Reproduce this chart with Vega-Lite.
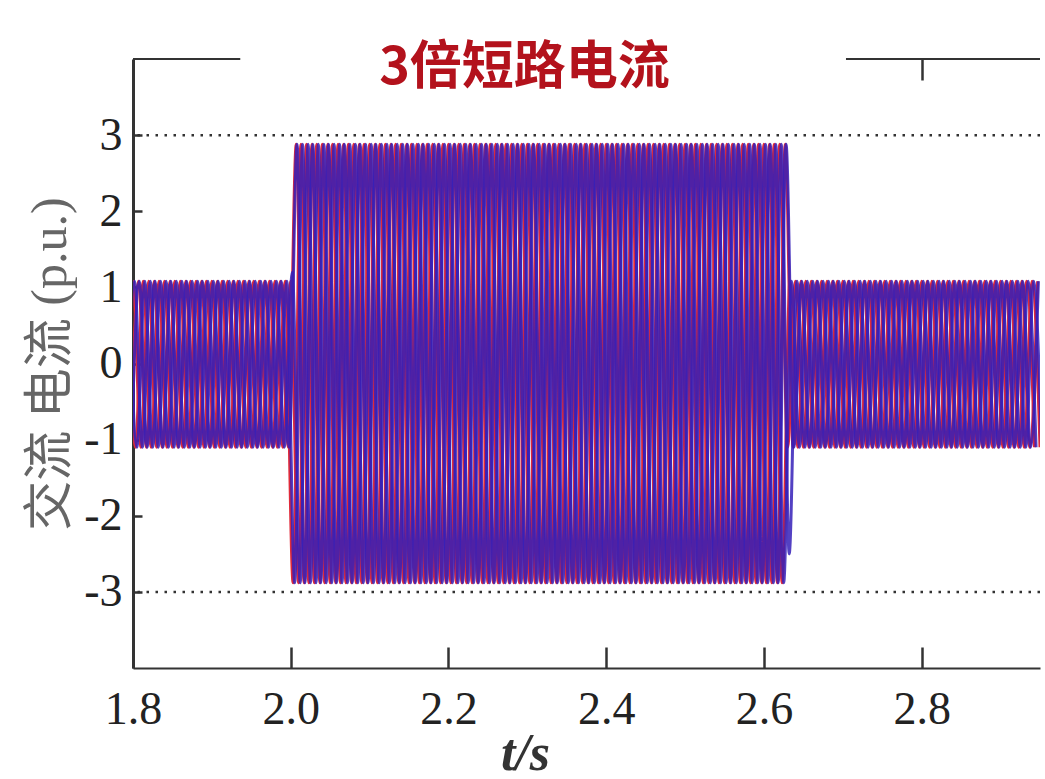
{
"$schema": "https://vega.github.io/schema/vega-lite/v6.json",
"width": 907, "height": 609,
"autosize": "none",
"padding": {"left": 133, "top": 59, "right": 5, "bottom": 111},
"background": "white",
"config": {"view": {"stroke": null}},
"title": {"text": "3倍短路电流", "font": "Noto Sans CJK SC", "fontSize": 52, "fontWeight": "bold", "color": "#b3121c", "anchor": "middle", "offset": 0, "dy": 78, "dx": -62, "baseline": "alphabetic"},
"data": {"values": [
{"t":1.790,"s":"Ra","v":-1.1},{"t":1.792,"s":"Ba","v":-1.1},{"t":1.793,"s":"Rc","v":1.08},{"t":1.795,"s":"Bc","v":1.08},{"t":1.797,"s":"Rb","v":-1.1},{"t":1.798,"s":"Bb","v":-1.1},
{"t":1.800,"s":"Ra","v":1.08},{"t":1.802,"s":"Ba","v":1.08},{"t":1.803,"s":"Rc","v":-1.1},{"t":1.805,"s":"Bc","v":-1.1},{"t":1.807,"s":"Rb","v":1.08},{"t":1.808,"s":"Bb","v":1.08},
{"t":1.810,"s":"Ra","v":-1.1},{"t":1.812,"s":"Ba","v":-1.1},{"t":1.813,"s":"Rc","v":1.08},{"t":1.815,"s":"Bc","v":1.08},{"t":1.817,"s":"Rb","v":-1.1},{"t":1.818,"s":"Bb","v":-1.1},
{"t":1.820,"s":"Ra","v":1.08},{"t":1.822,"s":"Ba","v":1.08},{"t":1.823,"s":"Rc","v":-1.1},{"t":1.825,"s":"Bc","v":-1.1},{"t":1.827,"s":"Rb","v":1.08},{"t":1.828,"s":"Bb","v":1.08},
{"t":1.830,"s":"Ra","v":-1.1},{"t":1.832,"s":"Ba","v":-1.1},{"t":1.833,"s":"Rc","v":1.08},{"t":1.835,"s":"Bc","v":1.08},{"t":1.837,"s":"Rb","v":-1.1},{"t":1.838,"s":"Bb","v":-1.1},
{"t":1.840,"s":"Ra","v":1.08},{"t":1.842,"s":"Ba","v":1.08},{"t":1.843,"s":"Rc","v":-1.1},{"t":1.845,"s":"Bc","v":-1.1},{"t":1.847,"s":"Rb","v":1.08},{"t":1.848,"s":"Bb","v":1.08},
{"t":1.850,"s":"Ra","v":-1.1},{"t":1.852,"s":"Ba","v":-1.1},{"t":1.853,"s":"Rc","v":1.08},{"t":1.855,"s":"Bc","v":1.08},{"t":1.857,"s":"Rb","v":-1.1},{"t":1.858,"s":"Bb","v":-1.1},
{"t":1.860,"s":"Ra","v":1.08},{"t":1.862,"s":"Ba","v":1.08},{"t":1.863,"s":"Rc","v":-1.1},{"t":1.865,"s":"Bc","v":-1.1},{"t":1.867,"s":"Rb","v":1.08},{"t":1.868,"s":"Bb","v":1.08},
{"t":1.870,"s":"Ra","v":-1.1},{"t":1.872,"s":"Ba","v":-1.1},{"t":1.873,"s":"Rc","v":1.08},{"t":1.875,"s":"Bc","v":1.08},{"t":1.877,"s":"Rb","v":-1.1},{"t":1.878,"s":"Bb","v":-1.1},
{"t":1.880,"s":"Ra","v":1.08},{"t":1.882,"s":"Ba","v":1.08},{"t":1.883,"s":"Rc","v":-1.1},{"t":1.885,"s":"Bc","v":-1.1},{"t":1.887,"s":"Rb","v":1.08},{"t":1.888,"s":"Bb","v":1.08},
{"t":1.890,"s":"Ra","v":-1.1},{"t":1.892,"s":"Ba","v":-1.1},{"t":1.893,"s":"Rc","v":1.08},{"t":1.895,"s":"Bc","v":1.08},{"t":1.897,"s":"Rb","v":-1.1},{"t":1.898,"s":"Bb","v":-1.1},
{"t":1.900,"s":"Ra","v":1.08},{"t":1.902,"s":"Ba","v":1.08},{"t":1.903,"s":"Rc","v":-1.1},{"t":1.905,"s":"Bc","v":-1.1},{"t":1.907,"s":"Rb","v":1.08},{"t":1.908,"s":"Bb","v":1.08},
{"t":1.910,"s":"Ra","v":-1.1},{"t":1.912,"s":"Ba","v":-1.1},{"t":1.913,"s":"Rc","v":1.08},{"t":1.915,"s":"Bc","v":1.08},{"t":1.917,"s":"Rb","v":-1.1},{"t":1.918,"s":"Bb","v":-1.1},
{"t":1.920,"s":"Ra","v":1.08},{"t":1.922,"s":"Ba","v":1.08},{"t":1.923,"s":"Rc","v":-1.1},{"t":1.925,"s":"Bc","v":-1.1},{"t":1.927,"s":"Rb","v":1.08},{"t":1.928,"s":"Bb","v":1.08},
{"t":1.930,"s":"Ra","v":-1.1},{"t":1.932,"s":"Ba","v":-1.1},{"t":1.933,"s":"Rc","v":1.08},{"t":1.935,"s":"Bc","v":1.08},{"t":1.937,"s":"Rb","v":-1.1},{"t":1.938,"s":"Bb","v":-1.1},
{"t":1.940,"s":"Ra","v":1.08},{"t":1.942,"s":"Ba","v":1.08},{"t":1.943,"s":"Rc","v":-1.1},{"t":1.945,"s":"Bc","v":-1.1},{"t":1.947,"s":"Rb","v":1.08},{"t":1.948,"s":"Bb","v":1.08},
{"t":1.950,"s":"Ra","v":-1.1},{"t":1.952,"s":"Ba","v":-1.1},{"t":1.953,"s":"Rc","v":1.08},{"t":1.955,"s":"Bc","v":1.08},{"t":1.957,"s":"Rb","v":-1.1},{"t":1.958,"s":"Bb","v":-1.1},
{"t":1.960,"s":"Ra","v":1.08},{"t":1.962,"s":"Ba","v":1.08},{"t":1.963,"s":"Rc","v":-1.1},{"t":1.965,"s":"Bc","v":-1.1},{"t":1.967,"s":"Rb","v":1.08},{"t":1.968,"s":"Bb","v":1.08},
{"t":1.970,"s":"Ra","v":-1.1},{"t":1.972,"s":"Ba","v":-1.1},{"t":1.973,"s":"Rc","v":1.08},{"t":1.975,"s":"Bc","v":1.08},{"t":1.977,"s":"Rb","v":-1.1},{"t":1.978,"s":"Bb","v":-1.1},
{"t":1.980,"s":"Ra","v":1.08},{"t":1.982,"s":"Ba","v":1.08},{"t":1.983,"s":"Rc","v":-1.1},{"t":1.985,"s":"Bc","v":-1.1},{"t":1.987,"s":"Rb","v":1.08},{"t":1.988,"s":"Bb","v":1.08},
{"t":1.990,"s":"Ra","v":-1.1},{"t":1.992,"s":"Ba","v":-1.1},{"t":1.993,"s":"Rc","v":1.08},{"t":1.995,"s":"Bc","v":1.08},{"t":1.997,"s":"Rb","v":-1.1},{"t":1.998,"s":"Bb","v":-1.1},
{"t":2.000,"s":"Ra","v":1.08},{"t":2.002,"s":"Ba","v":1.2},{"t":2.003,"s":"Rc","v":-2.88},{"t":2.005,"s":"Bc","v":-2.88},{"t":2.007,"s":"Rb","v":2.88},{"t":2.008,"s":"Bb","v":2.88},
{"t":2.010,"s":"Ra","v":-2.88},{"t":2.012,"s":"Ba","v":-2.88},{"t":2.013,"s":"Rc","v":2.88},{"t":2.015,"s":"Bc","v":2.88},{"t":2.017,"s":"Rb","v":-2.88},{"t":2.018,"s":"Bb","v":-2.88},
{"t":2.020,"s":"Ra","v":2.88},{"t":2.022,"s":"Ba","v":2.88},{"t":2.023,"s":"Rc","v":-2.88},{"t":2.025,"s":"Bc","v":-2.88},{"t":2.027,"s":"Rb","v":2.88},{"t":2.028,"s":"Bb","v":2.88},
{"t":2.030,"s":"Ra","v":-2.88},{"t":2.032,"s":"Ba","v":-2.88},{"t":2.033,"s":"Rc","v":2.88},{"t":2.035,"s":"Bc","v":2.88},{"t":2.037,"s":"Rb","v":-2.88},{"t":2.038,"s":"Bb","v":-2.88},
{"t":2.040,"s":"Ra","v":2.88},{"t":2.042,"s":"Ba","v":2.88},{"t":2.043,"s":"Rc","v":-2.88},{"t":2.045,"s":"Bc","v":-2.88},{"t":2.047,"s":"Rb","v":2.88},{"t":2.048,"s":"Bb","v":2.88},
{"t":2.050,"s":"Ra","v":-2.88},{"t":2.052,"s":"Ba","v":-2.88},{"t":2.053,"s":"Rc","v":2.88},{"t":2.055,"s":"Bc","v":2.88},{"t":2.057,"s":"Rb","v":-2.88},{"t":2.058,"s":"Bb","v":-2.88},
{"t":2.060,"s":"Ra","v":2.88},{"t":2.062,"s":"Ba","v":2.88},{"t":2.063,"s":"Rc","v":-2.88},{"t":2.065,"s":"Bc","v":-2.88},{"t":2.067,"s":"Rb","v":2.88},{"t":2.068,"s":"Bb","v":2.88},
{"t":2.070,"s":"Ra","v":-2.88},{"t":2.072,"s":"Ba","v":-2.88},{"t":2.073,"s":"Rc","v":2.88},{"t":2.075,"s":"Bc","v":2.88},{"t":2.077,"s":"Rb","v":-2.88},{"t":2.078,"s":"Bb","v":-2.88},
{"t":2.080,"s":"Ra","v":2.88},{"t":2.082,"s":"Ba","v":2.88},{"t":2.083,"s":"Rc","v":-2.88},{"t":2.085,"s":"Bc","v":-2.88},{"t":2.087,"s":"Rb","v":2.88},{"t":2.088,"s":"Bb","v":2.88},
{"t":2.090,"s":"Ra","v":-2.88},{"t":2.092,"s":"Ba","v":-2.88},{"t":2.093,"s":"Rc","v":2.88},{"t":2.095,"s":"Bc","v":2.88},{"t":2.097,"s":"Rb","v":-2.88},{"t":2.098,"s":"Bb","v":-2.88},
{"t":2.100,"s":"Ra","v":2.88},{"t":2.102,"s":"Ba","v":2.88},{"t":2.103,"s":"Rc","v":-2.88},{"t":2.105,"s":"Bc","v":-2.88},{"t":2.107,"s":"Rb","v":2.88},{"t":2.108,"s":"Bb","v":2.88},
{"t":2.110,"s":"Ra","v":-2.88},{"t":2.112,"s":"Ba","v":-2.88},{"t":2.113,"s":"Rc","v":2.88},{"t":2.115,"s":"Bc","v":2.88},{"t":2.117,"s":"Rb","v":-2.88},{"t":2.118,"s":"Bb","v":-2.88},
{"t":2.120,"s":"Ra","v":2.88},{"t":2.122,"s":"Ba","v":2.88},{"t":2.123,"s":"Rc","v":-2.88},{"t":2.125,"s":"Bc","v":-2.88},{"t":2.127,"s":"Rb","v":2.88},{"t":2.128,"s":"Bb","v":2.88},
{"t":2.130,"s":"Ra","v":-2.88},{"t":2.132,"s":"Ba","v":-2.88},{"t":2.133,"s":"Rc","v":2.88},{"t":2.135,"s":"Bc","v":2.88},{"t":2.137,"s":"Rb","v":-2.88},{"t":2.138,"s":"Bb","v":-2.88},
{"t":2.140,"s":"Ra","v":2.88},{"t":2.142,"s":"Ba","v":2.88},{"t":2.143,"s":"Rc","v":-2.88},{"t":2.145,"s":"Bc","v":-2.88},{"t":2.147,"s":"Rb","v":2.88},{"t":2.148,"s":"Bb","v":2.88},
{"t":2.150,"s":"Ra","v":-2.88},{"t":2.152,"s":"Ba","v":-2.88},{"t":2.153,"s":"Rc","v":2.88},{"t":2.155,"s":"Bc","v":2.88},{"t":2.157,"s":"Rb","v":-2.88},{"t":2.158,"s":"Bb","v":-2.88},
{"t":2.160,"s":"Ra","v":2.88},{"t":2.162,"s":"Ba","v":2.88},{"t":2.163,"s":"Rc","v":-2.88},{"t":2.165,"s":"Bc","v":-2.88},{"t":2.167,"s":"Rb","v":2.88},{"t":2.168,"s":"Bb","v":2.88},
{"t":2.170,"s":"Ra","v":-2.88},{"t":2.172,"s":"Ba","v":-2.88},{"t":2.173,"s":"Rc","v":2.88},{"t":2.175,"s":"Bc","v":2.88},{"t":2.177,"s":"Rb","v":-2.88},{"t":2.178,"s":"Bb","v":-2.88},
{"t":2.180,"s":"Ra","v":2.88},{"t":2.182,"s":"Ba","v":2.88},{"t":2.183,"s":"Rc","v":-2.88},{"t":2.185,"s":"Bc","v":-2.88},{"t":2.187,"s":"Rb","v":2.88},{"t":2.188,"s":"Bb","v":2.88},
{"t":2.190,"s":"Ra","v":-2.88},{"t":2.192,"s":"Ba","v":-2.88},{"t":2.193,"s":"Rc","v":2.88},{"t":2.195,"s":"Bc","v":2.88},{"t":2.197,"s":"Rb","v":-2.88},{"t":2.198,"s":"Bb","v":-2.88},
{"t":2.200,"s":"Ra","v":2.88},{"t":2.202,"s":"Ba","v":2.88},{"t":2.203,"s":"Rc","v":-2.88},{"t":2.205,"s":"Bc","v":-2.88},{"t":2.207,"s":"Rb","v":2.88},{"t":2.208,"s":"Bb","v":2.88},
{"t":2.210,"s":"Ra","v":-2.88},{"t":2.212,"s":"Ba","v":-2.88},{"t":2.213,"s":"Rc","v":2.88},{"t":2.215,"s":"Bc","v":2.88},{"t":2.217,"s":"Rb","v":-2.88},{"t":2.218,"s":"Bb","v":-2.88},
{"t":2.220,"s":"Ra","v":2.88},{"t":2.222,"s":"Ba","v":2.88},{"t":2.223,"s":"Rc","v":-2.88},{"t":2.225,"s":"Bc","v":-2.88},{"t":2.227,"s":"Rb","v":2.88},{"t":2.228,"s":"Bb","v":2.88},
{"t":2.230,"s":"Ra","v":-2.88},{"t":2.232,"s":"Ba","v":-2.88},{"t":2.233,"s":"Rc","v":2.88},{"t":2.235,"s":"Bc","v":2.88},{"t":2.237,"s":"Rb","v":-2.88},{"t":2.238,"s":"Bb","v":-2.88},
{"t":2.240,"s":"Ra","v":2.88},{"t":2.242,"s":"Ba","v":2.88},{"t":2.243,"s":"Rc","v":-2.88},{"t":2.245,"s":"Bc","v":-2.88},{"t":2.247,"s":"Rb","v":2.88},{"t":2.248,"s":"Bb","v":2.88},
{"t":2.250,"s":"Ra","v":-2.88},{"t":2.252,"s":"Ba","v":-2.88},{"t":2.253,"s":"Rc","v":2.88},{"t":2.255,"s":"Bc","v":2.88},{"t":2.257,"s":"Rb","v":-2.88},{"t":2.258,"s":"Bb","v":-2.88},
{"t":2.260,"s":"Ra","v":2.88},{"t":2.262,"s":"Ba","v":2.88},{"t":2.263,"s":"Rc","v":-2.88},{"t":2.265,"s":"Bc","v":-2.88},{"t":2.267,"s":"Rb","v":2.88},{"t":2.268,"s":"Bb","v":2.88},
{"t":2.270,"s":"Ra","v":-2.88},{"t":2.272,"s":"Ba","v":-2.88},{"t":2.273,"s":"Rc","v":2.88},{"t":2.275,"s":"Bc","v":2.88},{"t":2.277,"s":"Rb","v":-2.88},{"t":2.278,"s":"Bb","v":-2.88},
{"t":2.280,"s":"Ra","v":2.88},{"t":2.282,"s":"Ba","v":2.88},{"t":2.283,"s":"Rc","v":-2.88},{"t":2.285,"s":"Bc","v":-2.88},{"t":2.287,"s":"Rb","v":2.88},{"t":2.288,"s":"Bb","v":2.88},
{"t":2.290,"s":"Ra","v":-2.88},{"t":2.292,"s":"Ba","v":-2.88},{"t":2.293,"s":"Rc","v":2.88},{"t":2.295,"s":"Bc","v":2.88},{"t":2.297,"s":"Rb","v":-2.88},{"t":2.298,"s":"Bb","v":-2.88},
{"t":2.300,"s":"Ra","v":2.88},{"t":2.302,"s":"Ba","v":2.88},{"t":2.303,"s":"Rc","v":-2.88},{"t":2.305,"s":"Bc","v":-2.88},{"t":2.307,"s":"Rb","v":2.88},{"t":2.308,"s":"Bb","v":2.88},
{"t":2.310,"s":"Ra","v":-2.88},{"t":2.312,"s":"Ba","v":-2.88},{"t":2.313,"s":"Rc","v":2.88},{"t":2.315,"s":"Bc","v":2.88},{"t":2.317,"s":"Rb","v":-2.88},{"t":2.318,"s":"Bb","v":-2.88},
{"t":2.320,"s":"Ra","v":2.88},{"t":2.322,"s":"Ba","v":2.88},{"t":2.323,"s":"Rc","v":-2.88},{"t":2.325,"s":"Bc","v":-2.88},{"t":2.327,"s":"Rb","v":2.88},{"t":2.328,"s":"Bb","v":2.88},
{"t":2.330,"s":"Ra","v":-2.88},{"t":2.332,"s":"Ba","v":-2.88},{"t":2.333,"s":"Rc","v":2.88},{"t":2.335,"s":"Bc","v":2.88},{"t":2.337,"s":"Rb","v":-2.88},{"t":2.338,"s":"Bb","v":-2.88},
{"t":2.340,"s":"Ra","v":2.88},{"t":2.342,"s":"Ba","v":2.88},{"t":2.343,"s":"Rc","v":-2.88},{"t":2.345,"s":"Bc","v":-2.88},{"t":2.347,"s":"Rb","v":2.88},{"t":2.348,"s":"Bb","v":2.88},
{"t":2.350,"s":"Ra","v":-2.88},{"t":2.352,"s":"Ba","v":-2.88},{"t":2.353,"s":"Rc","v":2.88},{"t":2.355,"s":"Bc","v":2.88},{"t":2.357,"s":"Rb","v":-2.88},{"t":2.358,"s":"Bb","v":-2.88},
{"t":2.360,"s":"Ra","v":2.88},{"t":2.362,"s":"Ba","v":2.88},{"t":2.363,"s":"Rc","v":-2.88},{"t":2.365,"s":"Bc","v":-2.88},{"t":2.367,"s":"Rb","v":2.88},{"t":2.368,"s":"Bb","v":2.88},
{"t":2.370,"s":"Ra","v":-2.88},{"t":2.372,"s":"Ba","v":-2.88},{"t":2.373,"s":"Rc","v":2.88},{"t":2.375,"s":"Bc","v":2.88},{"t":2.377,"s":"Rb","v":-2.88},{"t":2.378,"s":"Bb","v":-2.88},
{"t":2.380,"s":"Ra","v":2.88},{"t":2.382,"s":"Ba","v":2.88},{"t":2.383,"s":"Rc","v":-2.88},{"t":2.385,"s":"Bc","v":-2.88},{"t":2.387,"s":"Rb","v":2.88},{"t":2.388,"s":"Bb","v":2.88},
{"t":2.390,"s":"Ra","v":-2.88},{"t":2.392,"s":"Ba","v":-2.88},{"t":2.393,"s":"Rc","v":2.88},{"t":2.395,"s":"Bc","v":2.88},{"t":2.397,"s":"Rb","v":-2.88},{"t":2.398,"s":"Bb","v":-2.88},
{"t":2.400,"s":"Ra","v":2.88},{"t":2.402,"s":"Ba","v":2.88},{"t":2.403,"s":"Rc","v":-2.88},{"t":2.405,"s":"Bc","v":-2.88},{"t":2.407,"s":"Rb","v":2.88},{"t":2.408,"s":"Bb","v":2.88},
{"t":2.410,"s":"Ra","v":-2.88},{"t":2.412,"s":"Ba","v":-2.88},{"t":2.413,"s":"Rc","v":2.88},{"t":2.415,"s":"Bc","v":2.88},{"t":2.417,"s":"Rb","v":-2.88},{"t":2.418,"s":"Bb","v":-2.88},
{"t":2.420,"s":"Ra","v":2.88},{"t":2.422,"s":"Ba","v":2.88},{"t":2.423,"s":"Rc","v":-2.88},{"t":2.425,"s":"Bc","v":-2.88},{"t":2.427,"s":"Rb","v":2.88},{"t":2.428,"s":"Bb","v":2.88},
{"t":2.430,"s":"Ra","v":-2.88},{"t":2.432,"s":"Ba","v":-2.88},{"t":2.433,"s":"Rc","v":2.88},{"t":2.435,"s":"Bc","v":2.88},{"t":2.437,"s":"Rb","v":-2.88},{"t":2.438,"s":"Bb","v":-2.88},
{"t":2.440,"s":"Ra","v":2.88},{"t":2.442,"s":"Ba","v":2.88},{"t":2.443,"s":"Rc","v":-2.88},{"t":2.445,"s":"Bc","v":-2.88},{"t":2.447,"s":"Rb","v":2.88},{"t":2.448,"s":"Bb","v":2.88},
{"t":2.450,"s":"Ra","v":-2.88},{"t":2.452,"s":"Ba","v":-2.88},{"t":2.453,"s":"Rc","v":2.88},{"t":2.455,"s":"Bc","v":2.88},{"t":2.457,"s":"Rb","v":-2.88},{"t":2.458,"s":"Bb","v":-2.88},
{"t":2.460,"s":"Ra","v":2.88},{"t":2.462,"s":"Ba","v":2.88},{"t":2.463,"s":"Rc","v":-2.88},{"t":2.465,"s":"Bc","v":-2.88},{"t":2.467,"s":"Rb","v":2.88},{"t":2.468,"s":"Bb","v":2.88},
{"t":2.470,"s":"Ra","v":-2.88},{"t":2.472,"s":"Ba","v":-2.88},{"t":2.473,"s":"Rc","v":2.88},{"t":2.475,"s":"Bc","v":2.88},{"t":2.477,"s":"Rb","v":-2.88},{"t":2.478,"s":"Bb","v":-2.88},
{"t":2.480,"s":"Ra","v":2.88},{"t":2.482,"s":"Ba","v":2.88},{"t":2.483,"s":"Rc","v":-2.88},{"t":2.485,"s":"Bc","v":-2.88},{"t":2.487,"s":"Rb","v":2.88},{"t":2.488,"s":"Bb","v":2.88},
{"t":2.490,"s":"Ra","v":-2.88},{"t":2.492,"s":"Ba","v":-2.88},{"t":2.493,"s":"Rc","v":2.88},{"t":2.495,"s":"Bc","v":2.88},{"t":2.497,"s":"Rb","v":-2.88},{"t":2.498,"s":"Bb","v":-2.88},
{"t":2.500,"s":"Ra","v":2.88},{"t":2.502,"s":"Ba","v":2.88},{"t":2.503,"s":"Rc","v":-2.88},{"t":2.505,"s":"Bc","v":-2.88},{"t":2.507,"s":"Rb","v":2.88},{"t":2.508,"s":"Bb","v":2.88},
{"t":2.510,"s":"Ra","v":-2.88},{"t":2.512,"s":"Ba","v":-2.88},{"t":2.513,"s":"Rc","v":2.88},{"t":2.515,"s":"Bc","v":2.88},{"t":2.517,"s":"Rb","v":-2.88},{"t":2.518,"s":"Bb","v":-2.88},
{"t":2.520,"s":"Ra","v":2.88},{"t":2.522,"s":"Ba","v":2.88},{"t":2.523,"s":"Rc","v":-2.88},{"t":2.525,"s":"Bc","v":-2.88},{"t":2.527,"s":"Rb","v":2.88},{"t":2.528,"s":"Bb","v":2.88},
{"t":2.530,"s":"Ra","v":-2.88},{"t":2.532,"s":"Ba","v":-2.88},{"t":2.533,"s":"Rc","v":2.88},{"t":2.535,"s":"Bc","v":2.88},{"t":2.537,"s":"Rb","v":-2.88},{"t":2.538,"s":"Bb","v":-2.88},
{"t":2.540,"s":"Ra","v":2.88},{"t":2.542,"s":"Ba","v":2.88},{"t":2.543,"s":"Rc","v":-2.88},{"t":2.545,"s":"Bc","v":-2.88},{"t":2.547,"s":"Rb","v":2.88},{"t":2.548,"s":"Bb","v":2.88},
{"t":2.550,"s":"Ra","v":-2.88},{"t":2.552,"s":"Ba","v":-2.88},{"t":2.553,"s":"Rc","v":2.88},{"t":2.555,"s":"Bc","v":2.88},{"t":2.557,"s":"Rb","v":-2.88},{"t":2.558,"s":"Bb","v":-2.88},
{"t":2.560,"s":"Ra","v":2.88},{"t":2.562,"s":"Ba","v":2.88},{"t":2.563,"s":"Rc","v":-2.88},{"t":2.565,"s":"Bc","v":-2.88},{"t":2.567,"s":"Rb","v":2.88},{"t":2.568,"s":"Bb","v":2.88},
{"t":2.570,"s":"Ra","v":-2.88},{"t":2.572,"s":"Ba","v":-2.88},{"t":2.573,"s":"Rc","v":2.88},{"t":2.575,"s":"Bc","v":2.88},{"t":2.577,"s":"Rb","v":-2.88},{"t":2.578,"s":"Bb","v":-2.88},
{"t":2.580,"s":"Ra","v":2.88},{"t":2.582,"s":"Ba","v":2.88},{"t":2.583,"s":"Rc","v":-2.88},{"t":2.585,"s":"Bc","v":-2.88},{"t":2.587,"s":"Rb","v":2.88},{"t":2.588,"s":"Bb","v":2.88},
{"t":2.590,"s":"Ra","v":-2.88},{"t":2.592,"s":"Ba","v":-2.88},{"t":2.593,"s":"Rc","v":2.88},{"t":2.595,"s":"Bc","v":2.88},{"t":2.597,"s":"Rb","v":-2.88},{"t":2.598,"s":"Bb","v":-2.88},
{"t":2.600,"s":"Ra","v":2.88},{"t":2.602,"s":"Ba","v":2.88},{"t":2.603,"s":"Rc","v":-2.88},{"t":2.605,"s":"Bc","v":-2.88},{"t":2.607,"s":"Rb","v":2.88},{"t":2.608,"s":"Bb","v":2.88},
{"t":2.610,"s":"Ra","v":-2.88},{"t":2.612,"s":"Ba","v":-2.88},{"t":2.613,"s":"Rc","v":2.88},{"t":2.615,"s":"Bc","v":2.88},{"t":2.617,"s":"Rb","v":-2.88},{"t":2.618,"s":"Bb","v":-2.88},
{"t":2.620,"s":"Ra","v":2.88},{"t":2.622,"s":"Ba","v":2.88},{"t":2.623,"s":"Rc","v":-2.88},{"t":2.625,"s":"Bc","v":-2.88},{"t":2.627,"s":"Rb","v":2.88},{"t":2.628,"s":"Bb","v":2.88},
{"t":2.630,"s":"Ra","v":-1.1},{"t":2.632,"s":"Ba","v":-2.5},{"t":2.633,"s":"Rc","v":1.08},{"t":2.635,"s":"Bc","v":1.08},{"t":2.637,"s":"Rb","v":-1.1},{"t":2.638,"s":"Bb","v":-1.1},
{"t":2.640,"s":"Ra","v":1.08},{"t":2.642,"s":"Ba","v":1.08},{"t":2.643,"s":"Rc","v":-1.1},{"t":2.645,"s":"Bc","v":-1.1},{"t":2.647,"s":"Rb","v":1.08},{"t":2.648,"s":"Bb","v":1.08},
{"t":2.650,"s":"Ra","v":-1.1},{"t":2.652,"s":"Ba","v":-1.1},{"t":2.653,"s":"Rc","v":1.08},{"t":2.655,"s":"Bc","v":1.08},{"t":2.657,"s":"Rb","v":-1.1},{"t":2.658,"s":"Bb","v":-1.1},
{"t":2.660,"s":"Ra","v":1.08},{"t":2.662,"s":"Ba","v":1.08},{"t":2.663,"s":"Rc","v":-1.1},{"t":2.665,"s":"Bc","v":-1.1},{"t":2.667,"s":"Rb","v":1.08},{"t":2.668,"s":"Bb","v":1.08},
{"t":2.670,"s":"Ra","v":-1.1},{"t":2.672,"s":"Ba","v":-1.1},{"t":2.673,"s":"Rc","v":1.08},{"t":2.675,"s":"Bc","v":1.08},{"t":2.677,"s":"Rb","v":-1.1},{"t":2.678,"s":"Bb","v":-1.1},
{"t":2.680,"s":"Ra","v":1.08},{"t":2.682,"s":"Ba","v":1.08},{"t":2.683,"s":"Rc","v":-1.1},{"t":2.685,"s":"Bc","v":-1.1},{"t":2.687,"s":"Rb","v":1.08},{"t":2.688,"s":"Bb","v":1.08},
{"t":2.690,"s":"Ra","v":-1.1},{"t":2.692,"s":"Ba","v":-1.1},{"t":2.693,"s":"Rc","v":1.08},{"t":2.695,"s":"Bc","v":1.08},{"t":2.697,"s":"Rb","v":-1.1},{"t":2.698,"s":"Bb","v":-1.1},
{"t":2.700,"s":"Ra","v":1.08},{"t":2.702,"s":"Ba","v":1.08},{"t":2.703,"s":"Rc","v":-1.1},{"t":2.705,"s":"Bc","v":-1.1},{"t":2.707,"s":"Rb","v":1.08},{"t":2.708,"s":"Bb","v":1.08},
{"t":2.710,"s":"Ra","v":-1.1},{"t":2.712,"s":"Ba","v":-1.1},{"t":2.713,"s":"Rc","v":1.08},{"t":2.715,"s":"Bc","v":1.08},{"t":2.717,"s":"Rb","v":-1.1},{"t":2.718,"s":"Bb","v":-1.1},
{"t":2.720,"s":"Ra","v":1.08},{"t":2.722,"s":"Ba","v":1.08},{"t":2.723,"s":"Rc","v":-1.1},{"t":2.725,"s":"Bc","v":-1.1},{"t":2.727,"s":"Rb","v":1.08},{"t":2.728,"s":"Bb","v":1.08},
{"t":2.730,"s":"Ra","v":-1.1},{"t":2.732,"s":"Ba","v":-1.1},{"t":2.733,"s":"Rc","v":1.08},{"t":2.735,"s":"Bc","v":1.08},{"t":2.737,"s":"Rb","v":-1.1},{"t":2.738,"s":"Bb","v":-1.1},
{"t":2.740,"s":"Ra","v":1.08},{"t":2.742,"s":"Ba","v":1.08},{"t":2.743,"s":"Rc","v":-1.1},{"t":2.745,"s":"Bc","v":-1.1},{"t":2.747,"s":"Rb","v":1.08},{"t":2.748,"s":"Bb","v":1.08},
{"t":2.750,"s":"Ra","v":-1.1},{"t":2.752,"s":"Ba","v":-1.1},{"t":2.753,"s":"Rc","v":1.08},{"t":2.755,"s":"Bc","v":1.08},{"t":2.757,"s":"Rb","v":-1.1},{"t":2.758,"s":"Bb","v":-1.1},
{"t":2.760,"s":"Ra","v":1.08},{"t":2.762,"s":"Ba","v":1.08},{"t":2.763,"s":"Rc","v":-1.1},{"t":2.765,"s":"Bc","v":-1.1},{"t":2.767,"s":"Rb","v":1.08},{"t":2.768,"s":"Bb","v":1.08},
{"t":2.770,"s":"Ra","v":-1.1},{"t":2.772,"s":"Ba","v":-1.1},{"t":2.773,"s":"Rc","v":1.08},{"t":2.775,"s":"Bc","v":1.08},{"t":2.777,"s":"Rb","v":-1.1},{"t":2.778,"s":"Bb","v":-1.1},
{"t":2.780,"s":"Ra","v":1.08},{"t":2.782,"s":"Ba","v":1.08},{"t":2.783,"s":"Rc","v":-1.1},{"t":2.785,"s":"Bc","v":-1.1},{"t":2.787,"s":"Rb","v":1.08},{"t":2.788,"s":"Bb","v":1.08},
{"t":2.790,"s":"Ra","v":-1.1},{"t":2.792,"s":"Ba","v":-1.1},{"t":2.793,"s":"Rc","v":1.08},{"t":2.795,"s":"Bc","v":1.08},{"t":2.797,"s":"Rb","v":-1.1},{"t":2.798,"s":"Bb","v":-1.1},
{"t":2.800,"s":"Ra","v":1.08},{"t":2.802,"s":"Ba","v":1.08},{"t":2.803,"s":"Rc","v":-1.1},{"t":2.805,"s":"Bc","v":-1.1},{"t":2.807,"s":"Rb","v":1.08},{"t":2.808,"s":"Bb","v":1.08},
{"t":2.810,"s":"Ra","v":-1.1},{"t":2.812,"s":"Ba","v":-1.1},{"t":2.813,"s":"Rc","v":1.08},{"t":2.815,"s":"Bc","v":1.08},{"t":2.817,"s":"Rb","v":-1.1},{"t":2.818,"s":"Bb","v":-1.1},
{"t":2.820,"s":"Ra","v":1.08},{"t":2.822,"s":"Ba","v":1.08},{"t":2.823,"s":"Rc","v":-1.1},{"t":2.825,"s":"Bc","v":-1.1},{"t":2.827,"s":"Rb","v":1.08},{"t":2.828,"s":"Bb","v":1.08},
{"t":2.830,"s":"Ra","v":-1.1},{"t":2.832,"s":"Ba","v":-1.1},{"t":2.833,"s":"Rc","v":1.08},{"t":2.835,"s":"Bc","v":1.08},{"t":2.837,"s":"Rb","v":-1.1},{"t":2.838,"s":"Bb","v":-1.1},
{"t":2.840,"s":"Ra","v":1.08},{"t":2.842,"s":"Ba","v":1.08},{"t":2.843,"s":"Rc","v":-1.1},{"t":2.845,"s":"Bc","v":-1.1},{"t":2.847,"s":"Rb","v":1.08},{"t":2.848,"s":"Bb","v":1.08},
{"t":2.850,"s":"Ra","v":-1.1},{"t":2.852,"s":"Ba","v":-1.1},{"t":2.853,"s":"Rc","v":1.08},{"t":2.855,"s":"Bc","v":1.08},{"t":2.857,"s":"Rb","v":-1.1},{"t":2.858,"s":"Bb","v":-1.1},
{"t":2.860,"s":"Ra","v":1.08},{"t":2.862,"s":"Ba","v":1.08},{"t":2.863,"s":"Rc","v":-1.1},{"t":2.865,"s":"Bc","v":-1.1},{"t":2.867,"s":"Rb","v":1.08},{"t":2.868,"s":"Bb","v":1.08},
{"t":2.870,"s":"Ra","v":-1.1},{"t":2.872,"s":"Ba","v":-1.1},{"t":2.873,"s":"Rc","v":1.08},{"t":2.875,"s":"Bc","v":1.08},{"t":2.877,"s":"Rb","v":-1.1},{"t":2.878,"s":"Bb","v":-1.1},
{"t":2.880,"s":"Ra","v":1.08},{"t":2.882,"s":"Ba","v":1.08},{"t":2.883,"s":"Rc","v":-1.1},{"t":2.885,"s":"Bc","v":-1.1},{"t":2.887,"s":"Rb","v":1.08},{"t":2.888,"s":"Bb","v":1.08},
{"t":2.890,"s":"Ra","v":-1.1},{"t":2.892,"s":"Ba","v":-1.1},{"t":2.893,"s":"Rc","v":1.08},{"t":2.895,"s":"Bc","v":1.08},{"t":2.897,"s":"Rb","v":-1.1},{"t":2.898,"s":"Bb","v":-1.1},
{"t":2.900,"s":"Ra","v":1.08},{"t":2.902,"s":"Ba","v":1.08},{"t":2.903,"s":"Rc","v":-1.1},{"t":2.905,"s":"Bc","v":-1.1},{"t":2.907,"s":"Rb","v":1.08},{"t":2.908,"s":"Bb","v":1.08},
{"t":2.910,"s":"Ra","v":-1.1},{"t":2.912,"s":"Ba","v":-1.1},{"t":2.913,"s":"Rc","v":1.08},{"t":2.915,"s":"Bc","v":1.08},{"t":2.917,"s":"Rb","v":-1.1},{"t":2.918,"s":"Bb","v":-1.1},
{"t":2.920,"s":"Ra","v":1.08},{"t":2.922,"s":"Ba","v":1.08},{"t":2.923,"s":"Rc","v":-1.1},{"t":2.925,"s":"Bc","v":-1.1},{"t":2.927,"s":"Rb","v":1.08},{"t":2.928,"s":"Bb","v":1.08},
{"t":2.930,"s":"Ra","v":-1.1},{"t":2.932,"s":"Ba","v":-1.1},{"t":2.933,"s":"Rc","v":1.08},{"t":2.935,"s":"Bc","v":1.08},{"t":2.937,"s":"Rb","v":-1.1},{"t":2.938,"s":"Bb","v":-1.1},
{"t":2.940,"s":"Ra","v":1.08},{"t":2.942,"s":"Ba","v":1.08},{"t":2.943,"s":"Rc","v":-1.1},{"t":2.945,"s":"Bc","v":-1.1},{"t":2.947,"s":"Rb","v":1.08},{"t":2.948,"s":"Bb","v":1.08},
{"t":2.950,"s":"Ra","v":-1.1},{"t":2.952,"s":"Ba","v":-1.1}
]},
"layer": [
{
"data": {"values": [{"y": 3}, {"y": -3}]},
"mark": {"type": "rule", "strokeDash": [2.5, 6.5], "strokeWidth": 2.5, "color": "#333333"},
"encoding": {"y": {"field": "y", "type": "quantitative", "scale": {"domain": [-4, 4], "nice": false},
"axis": {"orient": "left", "values": [-3, -2, -1, 0, 1, 2, 3], "labelExpr": "'' + datum.value", "grid": false, "domainColor": "#333333", "domainWidth": 3, "tickColor": "#333333", "tickWidth": 2.5, "tickSize": -9, "labelFont": "Liberation Serif", "labelFontSize": 46, "labelColor": "#222222", "labelPadding": 20, "labelFlush": false, "title": "交流 电流 (p.u.)", "titleFont": "Liberation Serif, Noto Sans CJK SC", "titleFontSize": 50, "titleFontWeight": "normal", "titleColor": "#666666", "titlePadding": 8}}}
},
{
"transform": [{"filter": {"field": "s", "oneOf": ["Ra", "Rb", "Rc"]}}],
"mark": {"type": "line", "interpolate": "monotone", "strokeWidth": 3, "clip": true},
"encoding": {
"x": {"field": "t", "type": "quantitative", "scale": {"domain": [1.8, 2.95], "nice": false, "zero": false},
"axis": {"orient": "bottom", "values": [1.8, 2.0, 2.2, 2.4, 2.6, 2.8], "format": ".1f", "grid": false, "domainColor": "#333333", "domainWidth": 2.2, "tickColor": "#333333", "tickWidth": 2.5, "tickSize": -21, "labelFont": "Liberation Serif", "labelFontSize": 46, "labelColor": "#222222", "labelPadding": 40, "labelFlush": false, "labelOverlap": false, "title": "t/s", "titleFont": "Liberation Serif", "titleFontSize": 52, "titleFontStyle": "italic", "titleFontWeight": "bold", "titleColor": "#333333", "titlePadding": -4, "titleX": 392}},
"y": {"field": "v", "type": "quantitative", "scale": {"domain": [-4, 4], "nice": false}},
"color": {"field": "s", "type": "nominal", "scale": {"domain": ["Ra", "Rb", "Rc", "Ba", "Bb", "Bc"], "range": ["#e02a3a", "#e02a3a", "#e02a3a", "#3520b8", "#3520b8", "#3520b8"]}, "legend": null}
}
},
{
"transform": [{"filter": {"field": "s", "oneOf": ["Ba", "Bb", "Bc"]}}],
"mark": {"type": "line", "interpolate": "monotone", "strokeWidth": 3, "clip": true, "opacity": 0.85},
"encoding": {
"x": {"field": "t", "type": "quantitative", "scale": {"domain": [1.8, 2.95], "nice": false, "zero": false}, "axis": null},
"y": {"field": "v", "type": "quantitative", "scale": {"domain": [-4, 4], "nice": false}},
"color": {"field": "s", "type": "nominal", "scale": {"domain": ["Ra", "Rb", "Rc", "Ba", "Bb", "Bc"], "range": ["#e02a3a", "#e02a3a", "#e02a3a", "#3520b8", "#3520b8", "#3520b8"]}, "legend": null}
}
},
{
"data": {"values": [{"x": 1.8, "x2": 1.936, "y": 4}, {"x": 2.704, "x2": 2.95, "y": 4}]},
"mark": {"type": "rule", "strokeWidth": 2.2, "color": "#333333"},
"encoding": {
"x": {"field": "x", "type": "quantitative", "scale": {"domain": [1.8, 2.95], "nice": false, "zero": false},
"axis": {"orient": "top", "values": [2.8], "labels": false, "domain": false, "grid": false, "tickSize": -21, "tickWidth": 2.5, "tickColor": "#333333", "title": null}},
"x2": {"field": "x2"},
"y": {"field": "y", "type": "quantitative", "scale": {"domain": [-4, 4], "nice": false}}
}
}
]
}
